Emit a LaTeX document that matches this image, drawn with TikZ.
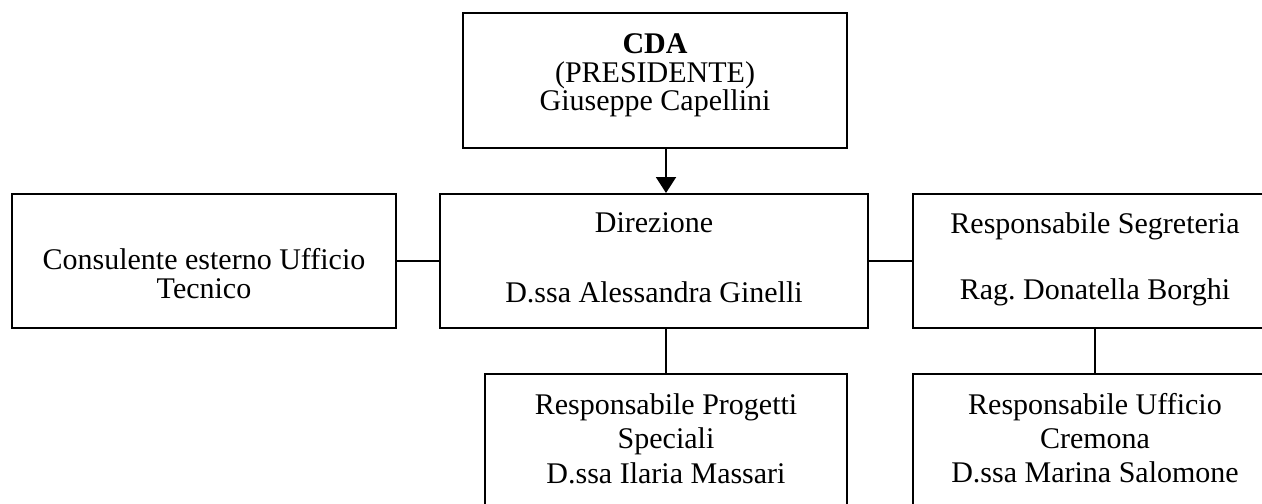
\documentclass[tikz,border=0pt]{standalone}
\usepackage{fontspec}
\setmainfont{Liberation Serif}
\usetikzlibrary{arrows.meta}
\frenchspacing
\begin{document}
\begin{tikzpicture}[x=0.5pt,y=-0.5pt,
  orgbox/.style={draw=black,line width=1pt,rectangle,inner sep=0pt,fill=none},
  txt/.style={anchor=base,inner sep=0pt,font=\fontsize{15}{14}\selectfont},
  conn/.style={draw=black,line width=1pt},
  arr/.style={conn,-{Triangle[width=10pt,length=8pt]}}]
\useasboundingbox (0,0) rectangle (1262,503);
\clip (0,0) rectangle (1262,503);
\fill[white] (0,0) rectangle (1262,503);
% boxes
\node[orgbox,minimum width=192pt,minimum height=67.5pt] (cda) at (655,80.5) {};
\node[orgbox,minimum width=192pt,minimum height=67pt] (cons) at (204,261) {};
\node[orgbox,minimum width=214pt,minimum height=67pt] (dir) at (654,261) {};
\node[orgbox,minimum width=182pt,minimum height=67pt] (seg) at (1095,261) {};
\node[orgbox,minimum width=181pt,minimum height=73pt] (prog) at (666,447) {};
\node[orgbox,minimum width=182pt,minimum height=73pt] (crem) at (1095,447) {};
% texts
\node[txt] (t1) at (655,53) {\bfseries CDA};
\node[txt] (t2) at (655,82) {(PRESIDENTE)};
\node[txt] (t3) at (655,110) {Giuseppe Capellini};
\node[txt] (t4) at (204,269) {Consulente esterno Ufficio};
\node[txt] (t5) at (204,298) {Tecnico};
\node[txt] (t6) at (654,232) {Direzione};
\node[txt] (t7) at (654,302) {D.ssa Alessandra Ginelli};
\node[txt] (t8) at (1095,233) {Responsabile Segreteria};
\node[txt] (t9) at (1095,299) {Rag.\ Donatella Borghi};
\node[txt] (t10) at (666,414) {Responsabile Progetti};
\node[txt] (t11) at (666,448) {Speciali};
\node[txt] (t12) at (666,483) {D.ssa Ilaria Massari};
\node[txt] (t13) at (1095,414) {Responsabile Ufficio};
\node[txt] (t14) at (1095,448) {Cremona};
\node[txt] (t15) at (1095,482) {D.ssa Marina Salomone};
% connectors
\coordinate (ax) at (666,0);
\draw[arr] (cda.south -| ax) -- (dir.north -| ax);
\draw[conn] (cons.east) -- (dir.west);
\draw[conn] (dir.east) -- (seg.west);
\draw[conn] (prog.north |- dir.south) -- (prog.north);
\draw[conn] (seg.south) -- (crem.north);
\end{tikzpicture}
\end{document}
